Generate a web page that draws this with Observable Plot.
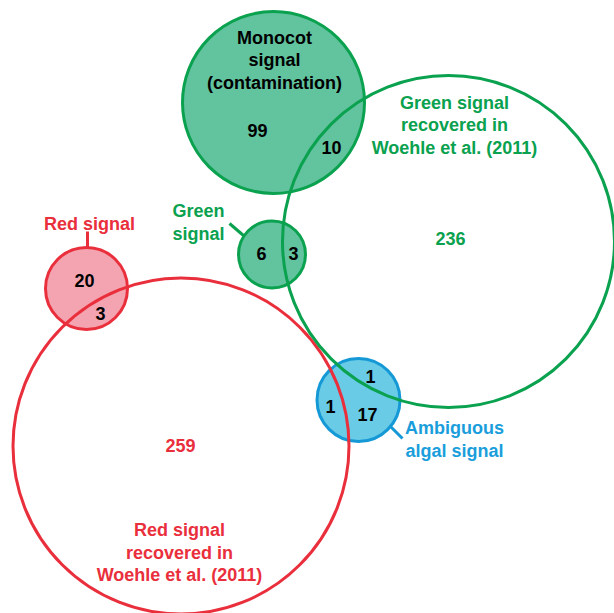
<!DOCTYPE html>
<html>
<head>
<meta charset="utf-8">
<script src="https://cdn.jsdelivr.net/npm/d3@7"></script>
<script src="https://cdn.jsdelivr.net/npm/@observablehq/plot@0.6"></script>
<style>
  html, body { margin: 0; padding: 0; background: #fff; }
</style>
</head>
<body>
<div id="chart"></div>
<script>
// ---- Data (diagram units) ----
const setNames   = ["Monocot signal (contamination)", "Green signal", "Red signal", "Ambiguous algal signal", "Green signal recovered in Woehle et al. (2011)", "Red signal recovered in Woehle et al. (2011)"];
const setGroup   = ["green", "green", "red", "blue", "green", "red"];
const setFilled  = [true, true, true, true, false, false];
const setX       = [273, 271.5, 86, 358, 448, 180.5];
const setY       = [102, 254, 288, 399.5, 241, 445.5];
const setR       = [91, 33.5, 41, 41.5, 166, 168];

const countValues = [99, 10, 6, 3, 20, 3, 236, 259, 1, 1, 17];
const countGroup  = ["inner", "inner", "inner", "inner", "inner", "inner", "green", "red", "inner", "inner", "inner"];
const countX      = [257, 331, 261, 293, 84, 100, 450, 180, 370, 330, 367];
const countY      = [131, 148, 254, 254, 281, 314, 239, 446, 377, 407, 415];

const labelTexts = ["Monocot\nsignal\n(contamination)", "Green signal\nrecovered in\nWoehle et al. (2011)", "Red signal\nrecovered in\nWoehle et al. (2011)", "Red signal", "Green\nsignal", "Ambiguous\nalgal signal"];
const labelGroup = ["inner", "green", "red", "red", "green", "blue"];
const labelX     = [274, 454, 179, 89, 198, 454];
const labelY     = [58.5, 123.5, 551, 222, 221, 438];

const leaderGroup = ["red", "green", "blue"];
const leaderX1 = [87, 229, 390];
const leaderY1 = [231, 223, 426];
const leaderX2 = [87, 243, 402];
const leaderY2 = [248, 235, 438];

// ---- Palette ----
const strokeColor = {green: "#0aa14f", red: "#ea2f3c", blue: "#1599d6", inner: "#000000"};
const fillColor   = {green: "#62c39f", red: "#f4a4b1", blue: "#69cbe6"};
const textColor   = {green: "#0aa14f", red: "#ea2f3c", blue: "#1a9edb", inner: "#000000"};

const sets = setNames.map((name, i) => ({name, group: setGroup[i], filled: setFilled[i], x: setX[i], y: setY[i], r: setR[i]}));
const counts = countValues.map((v, i) => ({v, group: countGroup[i], x: countX[i], y: countY[i]}));
const labels = labelTexts.map((t, i) => ({t, group: labelGroup[i], x: labelX[i], y: labelY[i]}));
const leaders = leaderGroup.map((g, i) => ({group: g, x1: leaderX1[i], y1: leaderY1[i], x2: leaderX2[i], y2: leaderY2[i]}));

const W = 614, H = 613;

const chart = Plot.plot({
  width: W,
  height: H,
  margin: 0,
  style: {fontFamily: "'Liberation Sans', Arial, Helvetica, sans-serif", background: "#fff"},
  x: {domain: [0, W], range: [0, W], axis: null},
  y: {domain: [0, H], range: [0, H], axis: null},
  r: {type: "identity"},
  marks: [
    Plot.link(leaders, {x1: "x1", y1: "y1", x2: "x2", y2: "y2", stroke: d => strokeColor[d.group], strokeWidth: 3}),
    Plot.dot(sets.filter(d => d.filled), {x: "x", y: "y", r: "r", fill: d => fillColor[d.group], fillOpacity: 1, stroke: d => strokeColor[d.group], strokeWidth: 3}),
    Plot.dot(sets.filter(d => !d.filled), {x: "x", y: "y", r: "r", fill: "none", stroke: d => strokeColor[d.group], strokeWidth: 3}),
    Plot.text(counts, {x: "x", y: "y", text: d => String(d.v), fill: d => textColor[d.group], fontSize: 18, fontWeight: "bold"}),
    Plot.text(labels, {x: "x", y: "y", text: "t", fill: d => textColor[d.group], fontSize: 18, fontWeight: "bold", lineHeight: 1.25})
  ]
});

document.getElementById("chart").appendChild(chart);
</script>
</body>
</html>
